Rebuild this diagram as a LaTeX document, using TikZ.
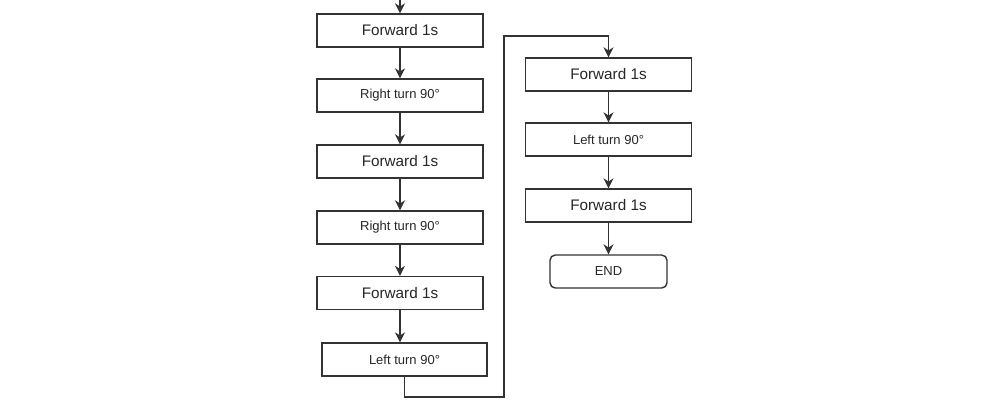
\documentclass[tikz,border=0pt]{standalone}
\usepackage{fontspec}
\setmainfont{Liberation Sans}
\usetikzlibrary{arrows.meta,positioning}

\tikzset{
	stepbox/.style={draw=black!80, line width=0.8pt, text=black!85, minimum width=3.32cm, minimum height=0.66cm, inner sep=0pt, font=\fontsize{8.7}{10}\selectfont},
	turnbox/.style={stepbox, font=\fontsize{7.4}{9}\selectfont},
	endbox/.style={turnbox, rounded corners=3pt, minimum width=2.34cm},
	flow/.style={draw=black!80, line width=0.8pt, -{Stealth[length=2mm,width=2mm]}}
}

\begin{document}
\begin{tikzpicture}[x=0.02cm, y=-0.02cm]
	\useasboundingbox (0,0) rectangle (1000,416);
	\coordinate (start) at (400,0);
	\node[stepbox] (f1) at (400,30.5) {Forward 1s};
	\node[turnbox] (r1) at (400,95.5) {Right turn 90°};
	\node[stepbox] (f2) at (400,161.5) {Forward 1s};
	\node[turnbox] (r2) at (400,227.5) {Right turn 90°};
	\node[stepbox] (f3) at (400,293) {Forward 1s};
	\node[turnbox, minimum width=3.3cm] (l1) at (404.5,359.5) {Left turn 90°};
	\node[stepbox] (f4) at (608.5,74.5) {Forward 1s};
	\node[turnbox] (l2) at (608.5,139.5) {Left turn 90°};
	\node[stepbox] (f5) at (608.5,205.5) {Forward 1s};
	\node[endbox] (end) at (608.5,271.5) {END};
	\coordinate (loopa) at (504,397);
	\coordinate (loopb) at (504,36);
	\draw[flow] (start) -- (f1);
	\draw[flow] (f1) -- (r1);
	\draw[flow] (r1) -- (f2);
	\draw[flow] (f2) -- (r2);
	\draw[flow] (r2) -- (f3);
	\draw[flow] (f3.south) -- (f3.south |- l1.north);
	\draw[flow] (l1.south) |- (loopa) -- (loopb) -| (f4.north);
	\draw[flow] (f4) -- (l2);
	\draw[flow] (l2) -- (f5);
	\draw[flow] (f5) -- (end);
\end{tikzpicture}
\end{document}
